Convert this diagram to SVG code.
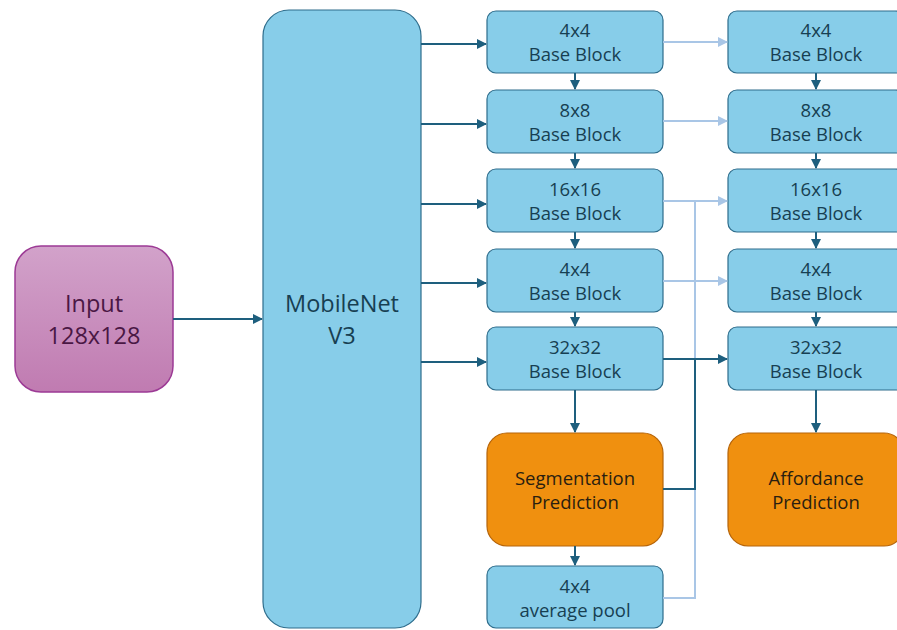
<svg xmlns="http://www.w3.org/2000/svg" width="897" height="630" viewBox="0 0 897 630">
  <defs>
    <linearGradient id="inputFill" x1="0" y1="0" x2="0" y2="1">
      <stop offset="0" stop-color="#D2A2CA"/>
      <stop offset="1" stop-color="#C07BB1"/>
    </linearGradient>
    <marker id="arrDark" viewBox="0 0 10 10" refX="9" refY="5" markerWidth="5" markerHeight="5" orient="auto" markerUnits="strokeWidth">
      <path d="M0,0 L10,5 L0,10 z" fill="#1E5F7E"/>
    </marker>
    <marker id="arrLight" viewBox="0 0 10 10" refX="9" refY="5" markerWidth="5" markerHeight="5" orient="auto" markerUnits="strokeWidth">
      <path d="M0,0 L10,5 L0,10 z" fill="#A9C6E6"/>
    </marker>
  </defs>
  <style>
    .blk { fill: #87CDE9; stroke: #2E6D8C; stroke-width: 1.2; }
    .pred { fill: #F0900F; stroke: #B5640A; stroke-width: 1.2; }
    .inp { fill: url(#inputFill); stroke: #9C3A95; stroke-width: 1.5; }
    .t { font-family: "Open Sans", "Noto Sans", sans-serif; font-size: 18.5px; fill: #173F52; text-anchor: middle; }
    .tl { font-family: "Open Sans", "Noto Sans", sans-serif; font-size: 23.5px; fill: #173F52; text-anchor: middle; }
    .tp { fill: #4A1744; }
    .tpr { fill: #2A1E10; }
    .dk { stroke: #1E5F7E; stroke-width: 2; fill: none; }
    .lt { stroke: #A9C6E6; stroke-width: 2; fill: none; }
  </style>

  <!-- input and backbone -->
  <g id="input">
    <rect class="inp" x="15" y="246" width="158" height="146" rx="26"/>
    <text class="tl tp" x="94" y="312">Input</text>
    <text class="tl tp" x="94" y="344">128x128</text>
  </g>
  <g id="mobilenet">
    <rect class="blk" x="263" y="10" width="158" height="618" rx="26"/>
    <text class="tl" x="342" y="312">MobileNet</text>
    <text class="tl" x="342" y="344">V3</text>
  </g>

  <!-- left column -->
  <g id="l_4x4a">
    <rect class="blk" x="487" y="11" width="176" height="62" rx="9"/>
    <text class="t" x="575" y="37">4x4</text>
    <text class="t" x="575" y="61">Base Block</text>
  </g>
  <g id="l_8x8">
    <rect class="blk" x="487" y="90" width="176" height="63" rx="9"/>
    <text class="t" x="575" y="117">8x8</text>
    <text class="t" x="575" y="141">Base Block</text>
  </g>
  <g id="l_16x16">
    <rect class="blk" x="487" y="169" width="176" height="63" rx="9"/>
    <text class="t" x="575" y="196">16x16</text>
    <text class="t" x="575" y="220">Base Block</text>
  </g>
  <g id="l_4x4b">
    <rect class="blk" x="487" y="249" width="176" height="63" rx="9"/>
    <text class="t" x="575" y="276">4x4</text>
    <text class="t" x="575" y="300">Base Block</text>
  </g>
  <g id="l_32x32">
    <rect class="blk" x="487" y="327" width="176" height="63" rx="9"/>
    <text class="t" x="575" y="354">32x32</text>
    <text class="t" x="575" y="378">Base Block</text>
  </g>
  <g id="seg_pred">
    <rect class="pred" x="487" y="433" width="176" height="113" rx="20"/>
    <text class="t tpr" x="575" y="485">Segmentation</text>
    <text class="t tpr" x="575" y="509">Prediction</text>
  </g>
  <g id="avg_pool">
    <rect class="blk" x="487" y="566" width="176" height="62" rx="9"/>
    <text class="t" x="575" y="593">4x4</text>
    <text class="t" x="575" y="617">average pool</text>
  </g>

  <!-- right column -->
  <g id="r_4x4a">
    <rect class="blk" x="728" y="11" width="176" height="62" rx="9"/>
    <text class="t" x="816" y="37">4x4</text>
    <text class="t" x="816" y="61">Base Block</text>
  </g>
  <g id="r_8x8">
    <rect class="blk" x="728" y="90" width="176" height="63" rx="9"/>
    <text class="t" x="816" y="117">8x8</text>
    <text class="t" x="816" y="141">Base Block</text>
  </g>
  <g id="r_16x16">
    <rect class="blk" x="728" y="169" width="176" height="63" rx="9"/>
    <text class="t" x="816" y="196">16x16</text>
    <text class="t" x="816" y="220">Base Block</text>
  </g>
  <g id="r_4x4b">
    <rect class="blk" x="728" y="249" width="176" height="63" rx="9"/>
    <text class="t" x="816" y="276">4x4</text>
    <text class="t" x="816" y="300">Base Block</text>
  </g>
  <g id="r_32x32">
    <rect class="blk" x="728" y="327" width="176" height="63" rx="9"/>
    <text class="t" x="816" y="354">32x32</text>
    <text class="t" x="816" y="378">Base Block</text>
  </g>
  <g id="aff_pred">
    <rect class="pred" x="728" y="433" width="176" height="113" rx="20"/>
    <text class="t tpr" x="816" y="485">Affordance</text>
    <text class="t tpr" x="816" y="509">Prediction</text>
  </g>

  <!-- connectors -->
  <g id="connectors">
    <line class="dk" x1="173" y1="319" x2="262" y2="319" marker-end="url(#arrDark)"/>
    <line class="dk" x1="421" y1="44" x2="486" y2="44" marker-end="url(#arrDark)"/>
    <line class="dk" x1="421" y1="124" x2="486" y2="124" marker-end="url(#arrDark)"/>
    <line class="dk" x1="421" y1="204" x2="486" y2="204" marker-end="url(#arrDark)"/>
    <line class="dk" x1="421" y1="283" x2="486" y2="283" marker-end="url(#arrDark)"/>
    <line class="dk" x1="421" y1="362" x2="486" y2="362" marker-end="url(#arrDark)"/>

    <line class="dk" x1="575" y1="73" x2="575" y2="89" marker-end="url(#arrDark)"/>
    <line class="dk" x1="575" y1="153" x2="575" y2="168" marker-end="url(#arrDark)"/>
    <line class="dk" x1="575" y1="232" x2="575" y2="248" marker-end="url(#arrDark)"/>
    <line class="dk" x1="575" y1="312" x2="575" y2="326" marker-end="url(#arrDark)"/>
    <line class="dk" x1="575" y1="390" x2="575" y2="432" marker-end="url(#arrDark)"/>
    <line class="dk" x1="575" y1="546" x2="575" y2="565" marker-end="url(#arrDark)"/>

    <line class="dk" x1="816" y1="73" x2="816" y2="89" marker-end="url(#arrDark)"/>
    <line class="dk" x1="816" y1="153" x2="816" y2="168" marker-end="url(#arrDark)"/>
    <line class="dk" x1="816" y1="232" x2="816" y2="248" marker-end="url(#arrDark)"/>
    <line class="dk" x1="816" y1="312" x2="816" y2="326" marker-end="url(#arrDark)"/>
    <line class="dk" x1="816" y1="390" x2="816" y2="432" marker-end="url(#arrDark)"/>

    <line class="lt" x1="663" y1="42" x2="727" y2="42" marker-end="url(#arrLight)"/>
    <line class="lt" x1="663" y1="121" x2="727" y2="121" marker-end="url(#arrLight)"/>
    <line class="lt" x1="663" y1="201" x2="727" y2="201" marker-end="url(#arrLight)"/>
    <line class="lt" x1="663" y1="281" x2="727" y2="281" marker-end="url(#arrLight)"/>
    <polyline class="lt" points="663,598 695,598 695,201"/>

    <line class="dk" x1="663" y1="359" x2="727" y2="359" marker-end="url(#arrDark)"/>
    <polyline class="dk" points="663,489 695,489 695,359"/>
  </g>
</svg>
